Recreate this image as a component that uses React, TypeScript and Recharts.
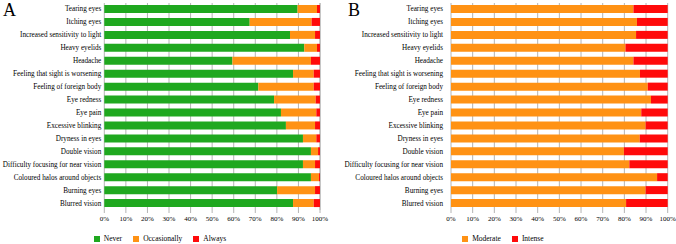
import React from "react";
import { BarChart, Bar, XAxis, YAxis, CartesianGrid, Legend } from "recharts";

const symptoms = [
  "Tearing eyes",
  "Itching eyes",
  "Increased sensitivity to light",
  "Heavy eyelids",
  "Headache",
  "Feeling that sight is worsening",
  "Feeling of foreign body",
  "Eye redness",
  "Eye pain",
  "Excessive blinking",
  "Dryness in eyes",
  "Double vision",
  "Difficulty focusing for near vision",
  "Coloured halos around objects",
  "Burning eyes",
  "Blurred vision",
];

const never = [89.6, 67.4, 86.1, 92.7, 59.4, 87.5, 71.4, 78.7, 81.9, 84.2, 92.1, 95.8, 92.1, 95.8, 80.1, 87.5];
const occasionally = [9.0, 28.7, 11.6, 5.9, 36.4, 9.6, 25.7, 19.3, 16.4, 13.5, 6.2, 3.3, 5.6, 3.7, 17.6, 9.6];
const always = [1.4, 3.9, 2.3, 1.4, 4.2, 2.9, 2.9, 2.0, 1.7, 2.3, 1.7, 0.9, 2.3, 0.5, 2.3, 2.9];

const moderate = [84.2, 85.8, 85.4, 80.5, 84.2, 87.2, 90.8, 92.3, 87.8, 89.8, 87.1, 79.8, 82.3, 95.1, 89.8, 80.8];
const intense = [15.8, 14.2, 14.6, 19.5, 15.8, 12.8, 9.2, 7.7, 12.2, 10.2, 12.9, 20.2, 17.7, 4.9, 10.2, 19.2];

const xTicks = [0, 10, 20, 30, 40, 50, 60, 70, 80, 90, 100];

const dataA = symptoms.map((s, i) => ({ name: s, Never: never[i], Occasionally: occasionally[i], Always: always[i] }));
const dataB = symptoms.map((s, i) => ({ name: s, Moderate: moderate[i], Intense: intense[i] }));

const GREEN = "#1fa81f";
const ORANGE = "#ff9214";
const RED = "#ff0a0a";
const GRID = "#b4b4b4";
const FONT = "'Liberation Serif', 'Times New Roman', serif";

const tickStyle = { fontSize: 7, fill: "#000", fontFamily: FONT };

function YTick(props: any) {
  const { x, y, payload } = props;
  return (
    <text x={x} y={y} textAnchor="end" dominantBaseline="central" fontSize={7.2} fill="#000" fontFamily={FONT}>
      {payload.value}
    </text>
  );
}

function makeLegend(keys: string[], colors: string[]) {
  return () => (
    <div style={{ display: "flex", justifyContent: "center", alignItems: "center", fontSize: 7.5, lineHeight: "10px", fontFamily: FONT, color: "#000" }}>
      {keys.map((k, i) => (
        <span key={k} style={{ display: "inline-flex", alignItems: "center", marginRight: i < keys.length - 1 ? 11 : 0 }}>
          <span style={{ display: "inline-block", width: 6, height: 6, background: colors[i], marginRight: 4 }} />
          <span>{k}</span>
        </span>
      ))}
    </div>
  );
}

function Panel({ data, keys, colors, yWidth, rightMargin, width, labelGap }: any) {
  return (
    <BarChart
      width={width}
      height={244}
      data={data}
      layout="vertical"
      margin={{ top: 3, right: rightMargin, bottom: 0, left: 0 }}
      barSize={8}
      style={{ fontFamily: FONT }}
    >
      <CartesianGrid horizontal={false} vertical={true} stroke={GRID} strokeWidth={1} />
      <XAxis
        type="number"
        domain={[0, 100]}
        ticks={xTicks}
        tickFormatter={(v: number) => `${v}%`}
        axisLine={false}
        tickLine={{ stroke: GRID }}
        tickSize={3}
        tickMargin={3}
        height={24}
        tick={tickStyle}
        interval={0}
      />
      <YAxis
        type="category"
        dataKey="name"
        width={yWidth}
        axisLine={false}
        tickLine={false}
        tickSize={labelGap}
        tickMargin={2}
        tick={<YTick />}
        interval={0}
      />
      <Legend verticalAlign="bottom" align="center" content={makeLegend(keys, colors)} wrapperStyle={{ lineHeight: "10px" }} />
      {keys.map((k: string, i: number) => (
        <Bar key={k} dataKey={k} stackId="a" fill={colors[i]} isAnimationActive={false} />
      ))}
    </BarChart>
  );
}

export default function App() {
  return (
    <div style={{ position: "absolute", left: 0, top: 0, width: 676, height: 244, background: "#fff", fontFamily: FONT }}>
      <div style={{ position: "absolute", left: 0, top: 0 }}>
        <Panel
          data={dataA}
          keys={["Never", "Occasionally", "Always"]}
          colors={[GREEN, ORANGE, RED]}
          yWidth={104.3}
          rightMargin={18}
          width={338}
          labelGap={1}
        />
      </div>
      <div style={{ position: "absolute", left: 338, top: 0 }}>
        <Panel
          data={dataB}
          keys={["Moderate", "Intense"]}
          colors={[ORANGE, RED]}
          yWidth={113}
          rightMargin={8.3}
          width={338}
          labelGap={6}
        />
      </div>
      <div style={{ position: "absolute", left: 3, top: -2, fontSize: 18, fontFamily: FONT, lineHeight: "24px" }}>A</div>
      <div style={{ position: "absolute", left: 348, top: -2, fontSize: 18, fontFamily: FONT, lineHeight: "24px" }}>B</div>
    </div>
  );
}
